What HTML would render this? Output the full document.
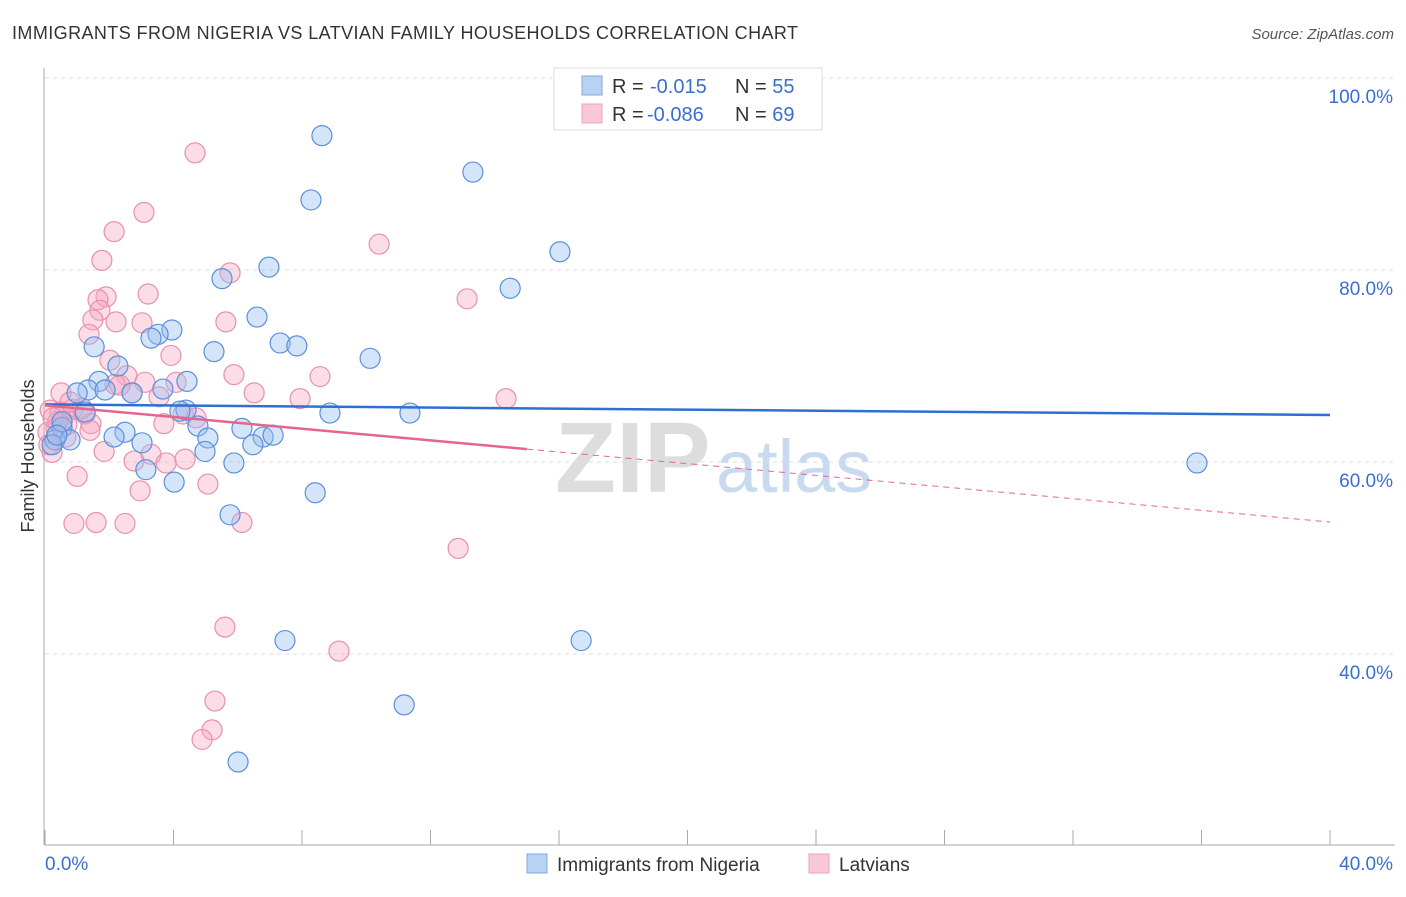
<!DOCTYPE html>
<html><head><meta charset="utf-8"><style>
body{margin:0;background:#fff;font-family:"Liberation Sans",sans-serif}
svg text{font-family:"Liberation Sans",sans-serif}
</style></head><body>
<svg width="1406" height="892">
<text x="12" y="39" font-size="18" fill="#333" textLength="786" lengthAdjust="spacing">IMMIGRANTS FROM NIGERIA VS LATVIAN FAMILY HOUSEHOLDS CORRELATION CHART</text>
<text x="1394" y="39" font-size="15" fill="#555" font-style="italic" text-anchor="end">Source: ZipAtlas.com</text>
<g id="grid"></g>
<text x="555" y="492" font-size="100" font-weight="bold" fill="#ddd" font-family="Liberation Serif">ZIP</text>
<text x="716" y="492" font-size="74" fill="#c8daf0">atlas</text>
<line x1="44" y1="68" x2="44" y2="845" stroke="#aaa"/>
<line x1="44" y1="845" x2="1395" y2="845" stroke="#aaa"/>
<g id="pts"></g><g id="trend"></g>
<text transform="translate(34,456) rotate(-90)" font-size="18" fill="#333" text-anchor="middle">Family Households</text>
<text x="45" y="870" font-size="19" fill="#3a6fd0">0.0%</text>
<text x="1393" y="870" font-size="19" fill="#3a6fd0" text-anchor="end">40.0%</text>
<g>
<rect x="554" y="68" width="268" height="62" fill="#fff" stroke="#ddd"/>
<rect x="582" y="76" width="20" height="19" fill="#b8d2f4" stroke="#7fa8e2"/>
<rect x="582" y="104" width="20" height="19" fill="#f9c8d8" stroke="#eba3bb"/>
<text x="612" y="93" font-size="20" fill="#333">R = <tspan x="650" fill="#3a6fd0">-0.015</tspan><tspan x="735">N = </tspan><tspan fill="#3a6fd0">55</tspan></text>
<text x="612" y="121" font-size="20" fill="#333">R = <tspan x="647" fill="#3a6fd0">-0.086</tspan><tspan x="735">N = </tspan><tspan fill="#3a6fd0">69</tspan></text>
</g>
<g>
<rect x="527" y="854" width="20" height="19" fill="#b8d2f4" stroke="#7fa8e2"/>
<text x="557" y="871" font-size="19" fill="#333">Immigrants from Nigeria</text>
<rect x="809" y="854" width="20" height="19" fill="#f9c8d8" stroke="#eba3bb"/>
<text x="839" y="871" font-size="19" fill="#333">Latvians</text>
</g>
</svg>
<script>
const yTicks=[100,80,60,40];
const xTicks=[0,4,8,12,16,20,24,28,32,36,40];
const blueX=[8.62,13.32,8.28,16.03,6.97,14.48,5.51,6.60,3.95,3.52,3.30,1.53,7.32,7.84,5.26,10.12,2.27,1.68,4.42,1.34,1.87,3.67,2.71,1.00,4.39,4.20,8.87,11.36,4.76,6.13,2.49,2.15,5.07,0.53,0.31,0.78,0.22,3.02,6.79,7.10,6.47,4.98,5.88,3.14,4.02,8.41,5.76,35.86,7.47,16.69,11.18,6.01,0.53,0.37,1.25];
const blueY=[94.0,90.2,87.3,81.9,80.3,78.1,79.1,75.1,73.75,73.3,72.9,72.0,72.4,72.1,71.5,70.8,70.0,68.4,68.4,67.5,67.5,67.6,67.2,67.2,65.4,65.3,65.1,65.1,63.75,63.5,63.1,62.6,62.5,63.6,62.3,62.3,61.8,62.0,62.6,62.8,61.8,61.1,59.9,59.2,57.9,56.8,54.5,59.9,41.4,41.4,34.7,28.75,64.2,62.8,65.2];
const pinkX=[4.67,3.08,2.15,1.77,10.40,5.76,3.21,1.90,1.65,13.14,1.71,1.49,2.21,3.02,5.63,1.37,3.92,2.02,5.88,8.56,2.55,3.11,2.18,2.71,0.50,6.51,7.94,14.35,3.55,4.08,0.87,0.16,1.25,4.30,3.70,1.43,0.59,0.68,0.34,0.09,0.65,1.84,3.30,2.77,4.36,3.77,0.22,1.00,5.07,2.96,0.90,1.59,2.49,6.13,12.86,5.60,9.15,5.29,5.20,4.89,0.47,0.40,0.12,1.15,2.33,4.70,0.25,0.78,1.40];
const pinkY=[92.2,86.0,84.0,81.0,82.7,79.7,77.5,77.2,76.9,77.0,75.8,74.8,74.6,74.5,74.6,73.3,71.1,70.6,69.1,68.9,69.0,68.3,68.1,67.2,67.2,67.2,66.6,66.6,66.8,68.3,65.5,65.4,65.0,65.0,64.0,64.0,64.9,63.9,63.5,63.1,62.6,61.1,60.8,60.1,60.3,59.9,61.0,58.5,57.7,57.0,53.6,53.7,53.6,53.7,51.0,42.8,40.3,35.1,32.1,31.1,65.2,64.2,61.8,65.6,68.0,64.6,64.6,66.25,63.3];
const blueTrend=[66.0,64.9];
const pinkTrend=[65.9,53.75];
const pinkSolidEnd=15.0;
const NS='http://www.w3.org/2000/svg';
const sx=v=>45+v/40*1285;
const sy=v=>78+(100-v)*9.6;
function mk(t,a,p){const e=document.createElementNS(NS,t);for(const k in a)e.setAttribute(k,a[k]);p.appendChild(e);return e;}
const grid=document.getElementById('grid');
yTicks.forEach(v=>{
 const l=mk('line',{x1:45,x2:1395,y1:sy(v),y2:sy(v),stroke:'#ddd','stroke-dasharray':'4,4'},grid);
 
 
 const t=mk('text',{x:1393,y:sy(v)+25,'font-size':19,fill:'#3a6fd0','text-anchor':'end'},grid);
 t.textContent=v.toFixed(1)+'%';
 
 
});
xTicks.forEach(v=>{
 const l=mk('line',{x1:sx(v),x2:sx(v),y1:830,y2:845,stroke:'#aaa'},grid);
 
 
});
const pts=document.getElementById('pts');
pinkX.forEach((x,i)=>{
 const c=mk('circle',{cx:sx(x),cy:sy(pinkY[i]),r:10,fill:'rgba(246,168,196,0.4)',stroke:'#e990ae','stroke-width':1.2},pts);
 
 
});
blueX.forEach((x,i)=>{
 const c=mk('circle',{cx:sx(x),cy:sy(blueY[i]),r:10,fill:'rgba(150,190,240,0.4)',stroke:'#5b8fd9','stroke-width':1.2},pts);
 
 
});
const tr=document.getElementById('trend');
const bl=mk('line',{x1:sx(0),y1:sy(blueTrend[0]),x2:sx(40),y2:sy(blueTrend[1]),stroke:'#2f6fd3','stroke-width':2.5},tr);


const pAt=x=>pinkTrend[0]+(pinkTrend[1]-pinkTrend[0])*x/40;
const pl=mk('line',{x1:sx(0),y1:sy(pAt(0)),x2:sx(pinkSolidEnd),y2:sy(pAt(pinkSolidEnd)),stroke:'#e4668f','stroke-width':2.5},tr);


const pd=mk('line',{x1:sx(pinkSolidEnd),y1:sy(pAt(pinkSolidEnd)),x2:sx(40),y2:sy(pAt(40)),stroke:'#e4668f','stroke-width':1,'stroke-dasharray':'6,5'},tr);


</script>
</body></html>
